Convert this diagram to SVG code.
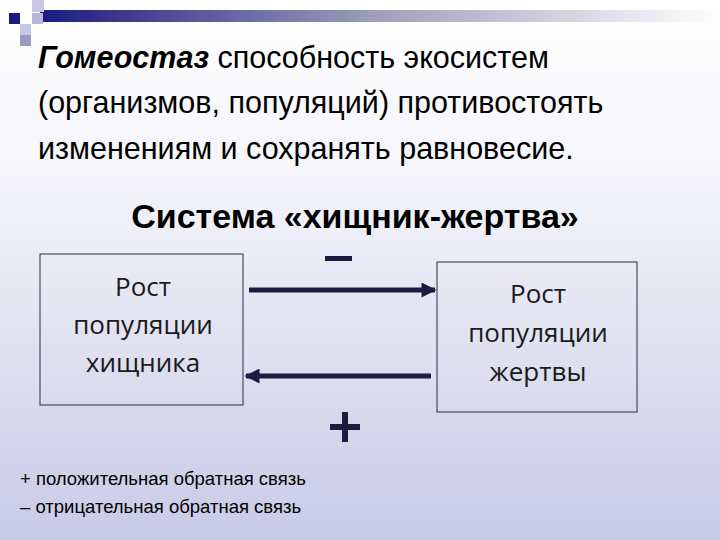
<svg xmlns="http://www.w3.org/2000/svg" width="720" height="540" viewBox="0 0 720 540">
<defs>
<linearGradient id="bg" x1="0" y1="0" x2="0" y2="1"><stop offset="0" stop-color="#ffffff"/><stop offset="0.3" stop-color="#f6f6fb"/><stop offset="1" stop-color="#c9cae6"/></linearGradient>
<linearGradient id="bar" x1="0" y1="0" x2="1" y2="0"><stop offset="0" stop-color="#1a1a80"/><stop offset="0.5" stop-color="#a0a0bc"/><stop offset="1" stop-color="#ffffff"/></linearGradient>
<marker id="ah" viewBox="0 0 10 10" refX="9" refY="5" markerWidth="3.6" markerHeight="3" orient="auto" markerUnits="strokeWidth"><path d="M0,0 L10,5 L0,10 z" fill="#1c1c40"/></marker>
</defs>
<style>
.t{font-family:"Liberation Sans",Arial,sans-serif;font-size:30.5px;fill:#000}
.h{font-family:"Liberation Sans",Arial,sans-serif;font-size:34px;font-weight:bold;fill:#000;text-anchor:middle}
.l{font-family:"Liberation Sans",Arial,sans-serif;font-size:18.5px;fill:#000}
.b{font-family:"Open Sans","DejaVu Sans",sans-serif;font-size:26px;fill:#1a1a1a;text-anchor:middle}
.box{fill:none;stroke:#2a2a48;stroke-width:1}
.ar{stroke:#1c1c40;stroke-width:5;fill:none;marker-end:url(#ah)}
</style>
<rect width="720" height="540" fill="url(#bg)"/>
<rect x="40" y="10" width="680" height="12" fill="url(#bar)"/>
<rect x="32" y="0" width="12" height="12" fill="#c8c8e4"/>
<rect x="9" y="13" width="11" height="11" fill="#1a1a80"/>
<rect x="32" y="13" width="11" height="11" fill="#b8b8da"/>
<rect x="20" y="24" width="11" height="11" fill="#c8c8e4"/>
<rect x="20" y="35" width="11" height="11" fill="#9a9ac8"/>
<text class="t" x="38" y="68"><tspan font-weight="bold" font-style="italic">Гомеостаз</tspan> способность экосистем</text>
<text class="t" x="38" y="113">(организмов, популяций) противостоять</text>
<text class="t" x="38" y="159">изменениям и сохранять равновесие.</text>
<text class="h" x="355" y="228">Система «хищник-жертва»</text>
<g id="predator"><rect class="box" x="40" y="254" width="203" height="151"/>
<text class="b" x="143" y="296">Рост</text><text class="b" x="143" y="334">популяции</text><text class="b" x="143" y="372">хищника</text></g>
<g id="prey"><rect class="box" x="437" y="262" width="200" height="150"/>
<text class="b" x="538" y="303">Рост</text><text class="b" x="538" y="342">популяции</text><text class="b" x="538" y="381">жертвы</text></g>
<g id="connectors">
<line class="ar" x1="249" y1="290" x2="435" y2="290"/>
<line class="ar" x1="431" y1="376" x2="246" y2="376"/>
</g>
<rect x="325" y="256" width="27" height="5" fill="#1c1c40"/>
<rect x="330" y="424" width="30" height="6" fill="#1c1c40"/><rect x="342" y="412" width="6" height="30" fill="#1c1c40"/>
<text class="l" x="20" y="485">+ положительная обратная связь</text>
<text class="l" x="20" y="513">– отрицательная обратная связь</text>
</svg>
